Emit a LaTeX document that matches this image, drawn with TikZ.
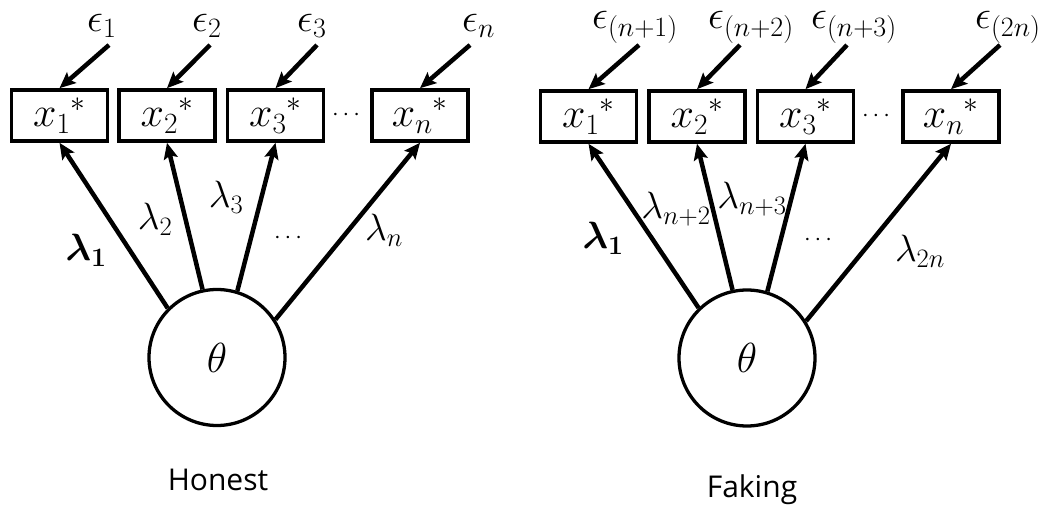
\RequirePackage{fix-cm}
\documentclass[tikz,border=0pt]{standalone}
\usepackage{amsmath}
\usepackage{bm}
\usepackage{fontspec}
\newfontfamily\grpfont{Open Sans}
\usetikzlibrary{arrows.meta}

\begin{document}
\begin{tikzpicture}[x=1pt,y=-1pt,
  every node/.style={inner sep=0pt},
  obs/.style={draw,line width=3.6pt,minimum width=96pt,minimum height=51pt,
    font=\fontsize{42}{48}\selectfont},
  lat/.style={draw,circle,line width=3.3pt,minimum size=136pt,
    font=\fontsize{42}{48}\selectfont},
  err/.style={font=\fontsize{40}{46}\selectfont,anchor=base west},
  load/.style={font=\fontsize{38}{44}\selectfont},
  dotsl/.style={font=\fontsize{24}{28}\selectfont},
  grp/.style={font=\grpfont\fontsize{30}{36}\selectfont,anchor=base},
  conn/.style={line width=4.5pt,-{Stealth[length=16pt,width=14pt,inset=3pt]}}
]
\useasboundingbox (0,0) rectangle (1058,510);

% ---------- Honest model ----------
\node[obs] (hx1) at (59.5,115.5) {${x_1}^{*}$};
\node[obs] (hx2) at (167,115.5)  {${x_2}^{*}$};
\node[obs] (hx3) at (275.5,115.5){${x_3}^{*}$};
\node[obs] (hxn) at (420,115.5)  {${x_n}^{*}$};
\node[dotsl] (hxd) at (348,115) {$\cdots$};

\node[lat] (hth) at (217,357.5) {$\theta$};

\node[err] (he1) at (87,32)  {$\epsilon_1$};
\node[err] (he2) at (192,32) {$\epsilon_2$};
\node[err] (he3) at (297,32) {$\epsilon_3$};
\node[err] (hen) at (462,32) {$\epsilon_n$};
\coordinate (he1s) at (109,45);
\coordinate (he2s) at (210,45);
\coordinate (he3s) at (317,45);
\coordinate (hens) at (470,45);
\draw[conn] (he1s) -- (hx1.north);
\draw[conn] (he2s) -- (hx2.north);
\draw[conn] (he3s) -- (hx3.north);
\draw[conn] (hens) -- (hxn.north);

\draw[conn] (hth.135) -- (hx1.south);
\draw[conn] (hth.102) -- (hx2.south);
\draw[conn] (hth.73)  -- (hx3.south);
\draw[conn] (hth.33)  -- (hxn.south);

\node[load] (hl1) at (86,250)  {$\bm{\lambda_1}$};
\node[load] (hl2) at (155,219) {$\lambda_2$};
\node[load] (hl3) at (226,197) {$\lambda_3$};
\node[dotsl] (hld) at (290,238) {$\cdots$};
\node[load] (hln) at (384,230) {$\lambda_n$};

\node[grp] (hon) at (218,490) {Honest};

% ---------- Faking model ----------
\node[obs] (fx1) at (588.5,116.5) {${x_1}^{*}$};
\node[obs] (fx2) at (697,116.5)   {${x_2}^{*}$};
\node[obs] (fx3) at (805.5,116.5) {${x_3}^{*}$};
\node[obs] (fxn) at (951,116.5)   {${x_n}^{*}$};
\node[dotsl] (fxd) at (878,116) {$\cdots$};

\node[lat] (fth) at (747,358) {$\theta$};

\node[err] (fe1) at (592,29) {$\epsilon_{(n+1)}$};
\node[err] (fe2) at (708,29) {$\epsilon_{(n+2)}$};
\node[err] (fe3) at (811,29) {$\epsilon_{(n+3)}$};
\node[err] (fen) at (975,29) {$\epsilon_{(2n)}$};
\coordinate (fe1s) at (639,45);
\coordinate (fe2s) at (740,45);
\coordinate (fe3s) at (847,45);
\coordinate (fens) at (1000,45);
\draw[conn] (fe1s) -- (fx1.north);
\draw[conn] (fe2s) -- (fx2.north);
\draw[conn] (fe3s) -- (fx3.north);
\draw[conn] (fens) -- (fxn.north);

\draw[conn] (fth.134) -- (fx1.south);
\draw[conn] (fth.102) -- (fx2.south);
\draw[conn] (fth.73)  -- (fx3.south);
\draw[conn] (fth.32)  -- (fxn.south);

\node[load] (fl1) at (603,238) {$\bm{\lambda_1}$};
\node[load] (fl2) at (676,209) {$\lambda_{n+2}$};
\node[load] (fl3) at (752,199) {$\lambda_{n+3}$};
\node[dotsl] (fld) at (820,240) {$\cdots$};
\node[load] (fln) at (920,251) {$\lambda_{2n}$};

\node[grp] (fak) at (752,497) {Faking};
\end{tikzpicture}
\end{document}
